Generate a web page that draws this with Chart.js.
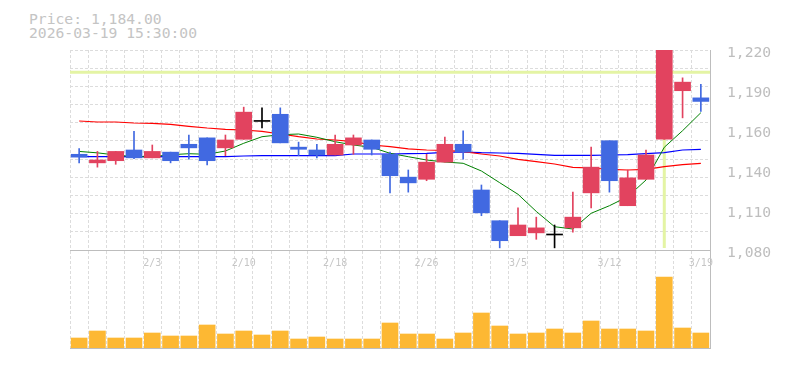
<!DOCTYPE html>
<html>
<head>
<meta charset="utf-8">
<script src="https://cdn.jsdelivr.net/npm/chart.js@4.4.1/dist/chart.umd.min.js"></script>
<style>
  body { margin: 0; background: #fff; }
  #wrap { position: relative; width: 785px; height: 370px; overflow: hidden; }
  canvas { position: absolute; left: 0; }
  .info { position: absolute; left: 29px; font: 14.7px "DejaVu Sans Mono", monospace; line-height: 15px; color: #c4c4c4; white-space: pre; }
</style>
</head>
<body>
<div id="wrap">
  <div class="info" id="priceInfo" style="top:11px"></div>
  <div class="info" id="timeInfo" style="top:25px"></div>
  <canvas id="volChart" width="785" height="110" style="top:250px"></canvas>
  <canvas id="priceChart" width="785" height="270" style="top:0"></canvas>
</div>
<script>
// trading days shown
const dates = ['1/28','1/29','1/30','2/2','2/3','2/4','2/5','2/6','2/9','2/10',
  '2/12','2/13','2/16','2/17','2/18','2/19','2/20','2/24','2/25','2/26',
  '2/27','3/2','3/3','3/4','3/5','3/6','3/9','3/10','3/11','3/12',
  '3/13','3/16','3/17','3/18','3/19'];
const shownDates = ['2/3','2/10','2/18','2/26','3/5','3/12','3/19'];

const opens  = [1147, 1141, 1142.5, 1150, 1144.5, 1148.5, 1154, 1158.5, 1151.5, 1157.5,
  1170, 1175, 1152, 1150, 1146.5, 1153.5, 1157, 1147, 1131, 1129.5,
  1141.5, 1154, 1122, 1100.5, 1090, 1092, 1090.5, 1095.5, 1120, 1156.5,
  1111, 1129.5, 1157.5, 1191.5, 1186.5];
const highs  = [1151, 1149, 1149, 1163, 1153.5, 1148.5, 1160.5, 1158.5, 1160.5, 1180,
  1179.5, 1179.5, 1155.5, 1154, 1160.5, 1160.5, 1157, 1148.5, 1136, 1147,
  1159, 1163.5, 1125.5, 1100.5, 1109.5, 1103, 1097.5, 1120.5, 1152, 1156.5,
  1136, 1150, 1220, 1200.5, 1196];
const lows   = [1141, 1138, 1140, 1144, 1144.5, 1141, 1143.5, 1139.5, 1146, 1157.5,
  1165.5, 1155, 1146, 1144.5, 1146.5, 1147, 1146.5, 1120, 1120.5, 1128.5,
  1141.5, 1143.5, 1104, 1081.5, 1090, 1087.5, 1081.5, 1092.5, 1109.5, 1120.5,
  1111, 1129.5, 1157.5, 1172.5, 1177];
const closes = [1145, 1143, 1149, 1144.5, 1149, 1142.5, 1151.5, 1142.5, 1157, 1176.5,
  1170, 1155, 1150.5, 1146.5, 1154, 1158.5, 1150.5, 1132, 1127, 1141.5,
  1154, 1148.5, 1106, 1086.5, 1097.5, 1095.5, 1090.5, 1103, 1138, 1128.5,
  1130.5, 1146.5, 1220, 1197.5, 1184];

// moving averages
const ma5  = [1149, 1148, 1146.5, 1145.3, 1145.3, 1146.7, 1147.4, 1147, 1149.3, 1154.7,
  1159.3, 1160.7, 1161.2, 1158.9, 1155.8, 1153.5, 1151.9, 1147.7, 1145.3, 1143,
  1141.6, 1140.7, 1135.3, 1127.1, 1119, 1107, 1096.3, 1094.7, 1105.7, 1111,
  1117.3, 1129, 1151.9, 1163.5, 1176.1];
const ma25 = [1170.3, 1169.6, 1169.6, 1168.9, 1168.7, 1168, 1166.6, 1165.4, 1164.5, 1164,
  1163.1, 1161.2, 1159.3, 1157.7, 1157, 1155.8, 1153.5, 1152.3, 1150.8, 1150,
  1149.8, 1148.8, 1147.2, 1145.8, 1143.5, 1141.8, 1140.2, 1137.8, 1137.4, 1136.5,
  1136, 1136.5, 1138.3, 1139.7, 1140.7];
const ma75 = [1145.3, 1145.3, 1145.3, 1145.3, 1145.3, 1145.3, 1145.3, 1145.3, 1145.3, 1145.8,
  1146, 1146, 1146, 1146, 1146, 1147.2, 1147.2, 1147.2, 1147.4, 1147.7,
  1148.4, 1148.6, 1148.1, 1147.9, 1147.7, 1147, 1146.3, 1146.3, 1146.3, 1146.5,
  1146.7, 1147.4, 1148.1, 1150, 1150.5];

const volumes = [100, 170, 100, 100, 150, 120, 120, 230, 140, 170,
  130, 170, 90, 110, 90, 90, 90, 250, 140, 140,
  90, 150, 350, 220, 140, 150, 190, 150, 270, 190,
  190, 170, 710, 200, 150];

const priceTicks = [1080, 1108, 1136, 1164, 1192, 1220];
const priceTickLabels = ['1,080', '1,110', '1,140', '1,160', '1,190', '1,220'];
const highlightPrice = 1204.5;
const highlightIndex = 32;
const priceText = 'Price: 1,184.00';
const timeText = '2026-03-19 15:30:00';

document.getElementById('priceInfo').textContent = priceText;
document.getElementById('timeInfo').textContent = timeText;

const UP = '#e2435f', DOWN = '#4169e1', FLAT = '#000000';
const GRID = '#dcdcdc', AXIS = '#bdbdbd', LABEL = '#bebebe';
const mono = 'DejaVu Sans Mono';

const candleColors = opens.map((o, i) => closes[i] > o ? UP : (closes[i] < o ? DOWN : FLAT));

// yellow-green marker lines behind the candles
const highlight = {
  id: 'highlight',
  beforeDatasetsDraw(chart) {
    const ctx = chart.ctx, a = chart.chartArea;
    const y = chart.scales.y.getPixelForValue(highlightPrice);
    const x = chart.scales.x.getPixelForValue(highlightIndex);
    ctx.save();
    ctx.strokeStyle = '#e4f4a4';
    ctx.lineWidth = 3;
    ctx.beginPath();
    ctx.moveTo(a.left, y);
    ctx.lineTo(a.right, y);
    ctx.moveTo(x, a.top);
    ctx.lineTo(x, a.bottom - 2);
    ctx.stroke();
    ctx.restore();
  }
};

new Chart(document.getElementById('priceChart'), {
  type: 'bar',
  data: {
    labels: dates,
    datasets: [
      { type: 'line', data: ma75, borderColor: '#0000ff', borderWidth: 1.2, pointRadius: 0, yAxisID: 'y', order: 4 },
      { type: 'line', data: ma25, borderColor: '#ff0000', borderWidth: 1.2, pointRadius: 0, yAxisID: 'y', order: 3 },
      { type: 'line', data: ma5, borderColor: '#008000', borderWidth: 1, pointRadius: 0, yAxisID: 'y', order: 2 },
      { data: lows.map((l, i) => [l, highs[i]]), backgroundColor: candleColors, barThickness: 1, grouped: false, yAxisID: 'y', order: 1 },
      { data: opens.map((o, i) => [o, closes[i]]), backgroundColor: candleColors, barThickness: 16, minBarLength: 1, grouped: false, yAxisID: 'y', order: 0 }
    ]
  },
  options: {
    responsive: false,
    animation: false,
    layout: { padding: { left: 70, top: 50, right: 0, bottom: 0 } },
    plugins: { legend: { display: false }, tooltip: { enabled: false } },
    scales: {
      x: {
        grid: { color: GRID, drawTicks: false, offset: true },
        border: { display: true, color: AXIS, dash: [3, 2] },
        ticks: {
          autoSkip: false, maxRotation: 0, padding: 7, color: '#c6c6c6',
          font: { family: mono, size: 10 },
          callback: (v, i) => shownDates.includes(dates[i]) ? dates[i] : ''
        },
        afterFit: s => { s.height = 20; }
      },
      y: {
        position: 'right', min: 1080, max: 1220,
        grid: { display: false },
        border: { display: true, color: AXIS },
        afterBuildTicks: s => { s.ticks = priceTicks.map(v => ({ value: v })); },
        ticks: {
          padding: 9, labelOffset: 3, color: LABEL,
          font: { family: mono, size: 14.7 },
          callback: (v, i) => priceTickLabels[i]
        },
        afterFit: s => { s.width = 75; }
      },
      yGrid: {
        position: 'left', min: 0, max: 11,
        grid: { color: GRID, drawTicks: false },
        border: { display: false, dash: [3, 2] },
        ticks: { display: false, stepSize: 1 },
        afterFit: s => { s.width = 0; }
      }
    }
  },
  plugins: [highlight]
});

new Chart(document.getElementById('volChart'), {
  type: 'bar',
  data: {
    labels: dates,
    datasets: [{ data: volumes, backgroundColor: '#fdb833', barThickness: 16 }]
  },
  options: {
    responsive: false,
    animation: false,
    layout: { padding: { left: 70, top: 1, right: 0, bottom: 12 } },
    plugins: { legend: { display: false }, tooltip: { enabled: false } },
    scales: {
      x: {
        grid: { color: GRID, drawTicks: false, offset: true },
        border: { display: true, color: AXIS, dash: [3, 2] },
        ticks: { display: false },
        afterFit: s => { s.height = 0; }
      },
      y: {
        position: 'right', min: 0, max: 970,
        grid: { display: false },
        border: { display: true, color: AXIS },
        ticks: { display: false },
        afterFit: s => { s.width = 75; }
      }
    }
  }
});
</script>
</body>
</html>
